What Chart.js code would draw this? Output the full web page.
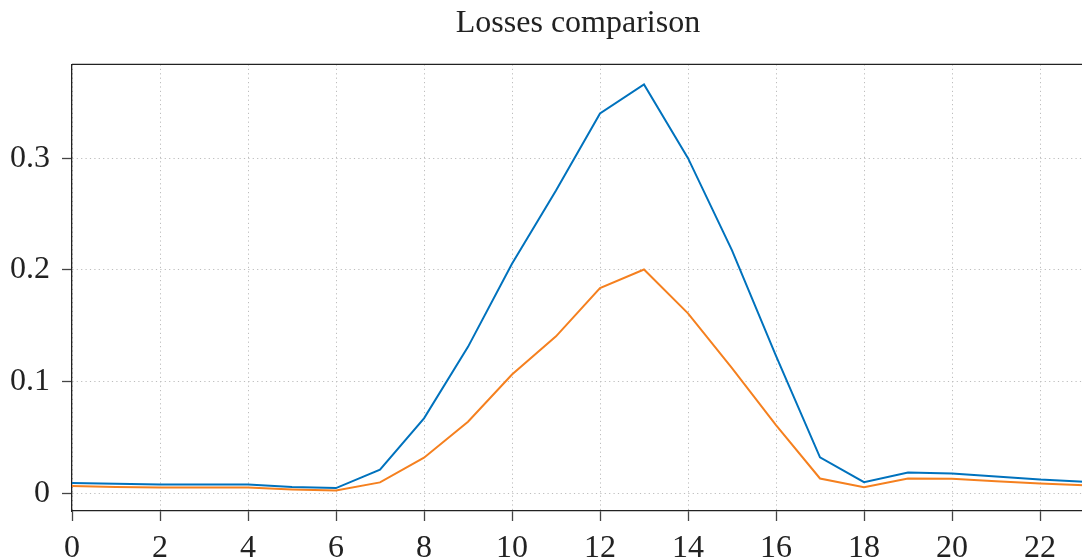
<!DOCTYPE html>
<html>
<head>
<meta charset="utf-8">
<script src="https://cdn.jsdelivr.net/npm/chart.js@4/dist/chart.umd.min.js"></script>
<style>
  html, body { margin: 0; padding: 0; background: #fff; overflow: hidden; }
  #wrap { width: 1082px; height: 560px; overflow: hidden; }
</style>
</head>
<body>
<div id="wrap"><canvas id="loss-chart" width="1090" height="560"></canvas></div>
<script>
const epochs = [0, 1, 2, 3, 4, 5, 6, 7, 8, 9, 10, 11, 12, 13, 14, 15, 16, 17, 18, 19, 20, 21, 22, 23]
const lossBlue = [0.009, 0.0084, 0.0078, 0.0078, 0.0078, 0.0054, 0.0045, 0.021, 0.067, 0.131, 0.2055, 0.271,
    0.340, 0.366, 0.300, 0.2175, 0.123, 0.032, 0.0098, 0.0185, 0.0176, 0.015, 0.0122, 0.0103]
const lossOrange = [0.0063, 0.0055, 0.005, 0.005, 0.005, 0.0033, 0.0024, 0.0096, 0.0317, 0.0639, 0.1062, 0.1404,
    0.1837, 0.2003, 0.161, 0.112, 0.061, 0.0131, 0.0054, 0.0131, 0.0128, 0.0107, 0.0086, 0.0071]
const xTicks = [0, 2, 4, 6, 8, 10, 12, 14, 16, 18, 20, 22]
const yTicks = [0, 0.1, 0.2, 0.3]

const serif = "'Liberation Serif', 'DejaVu Serif', serif"

function toPoints(ys) {
    return epochs.map((x, i) => ({ x: x, y: ys[i] }))
}

// top/right frame lines, like a boxed axes
const frame = {
    id: 'frame',
    afterDraw(chart) {
        const { ctx, chartArea: a } = chart
        ctx.save()
        ctx.strokeStyle = '#222'
        ctx.lineWidth = 1.3
        ctx.beginPath()
        ctx.moveTo(a.left, a.top)
        ctx.lineTo(a.right, a.top)
        ctx.lineTo(a.right, a.bottom)
        ctx.stroke()
        ctx.restore()
    }
}

new Chart(document.getElementById('loss-chart'), {
    type: 'line',
    data: {
        datasets: [
            {
                data: toPoints(lossBlue),
                borderColor: '#0072bd',
                borderWidth: 2,
                pointRadius: 0,
                tension: 0
            },
            {
                data: toPoints(lossOrange),
                borderColor: '#f5801f',
                borderWidth: 2,
                pointRadius: 0,
                tension: 0
            }
        ]
    },
    plugins: [frame],
    options: {
        responsive: false,
        animation: false,
        devicePixelRatio: 1,
        layout: { padding: { left: 0, right: 6, top: 0, bottom: 0 } },
        plugins: {
            legend: { display: false },
            tooltip: { enabled: false },
            title: {
                display: true,
                fullSize: false,
                text: 'Losses comparison',
                color: '#222',
                font: { family: serif, size: 32, weight: 'normal' },
                padding: { top: 4, bottom: 22 }
            }
        },
        scales: {
            x: {
                type: 'linear',
                min: 0,
                max: 23,
                afterBuildTicks: s => { s.ticks = xTicks.map(v => ({ value: v })) },
                afterFit: s => { s.height = 49 },
                ticks: {
                    color: '#222',
                    font: { family: serif, size: 32 },
                    padding: 8,
                    maxRotation: 0,
                    autoSkip: false
                },
                grid: {
                    color: '#bdbdbd',
                    lineWidth: 1,
                    tickColor: '#444',
                    tickLength: 10,
                    tickWidth: 1.3
                },
                border: { color: '#222', width: 1.3, dash: [1.2, 3.2] }
            },
            y: {
                type: 'linear',
                min: -0.016,
                max: 0.384,
                afterBuildTicks: s => { s.ticks = yTicks.map(v => ({ value: v })) },
                afterFit: s => { s.width = 72 },
                ticks: {
                    color: '#222',
                    font: { family: serif, size: 32 },
                    padding: 12,
                    callback: v => v === 0 ? '0' : v.toFixed(1)
                },
                grid: {
                    color: '#bdbdbd',
                    lineWidth: 1,
                    tickColor: '#444',
                    tickLength: 10,
                    tickWidth: 1.3
                },
                border: { color: '#222', width: 1.3, dash: [1.2, 3.2] }
            }
        }
    }
});
</script>
</body>
</html>
